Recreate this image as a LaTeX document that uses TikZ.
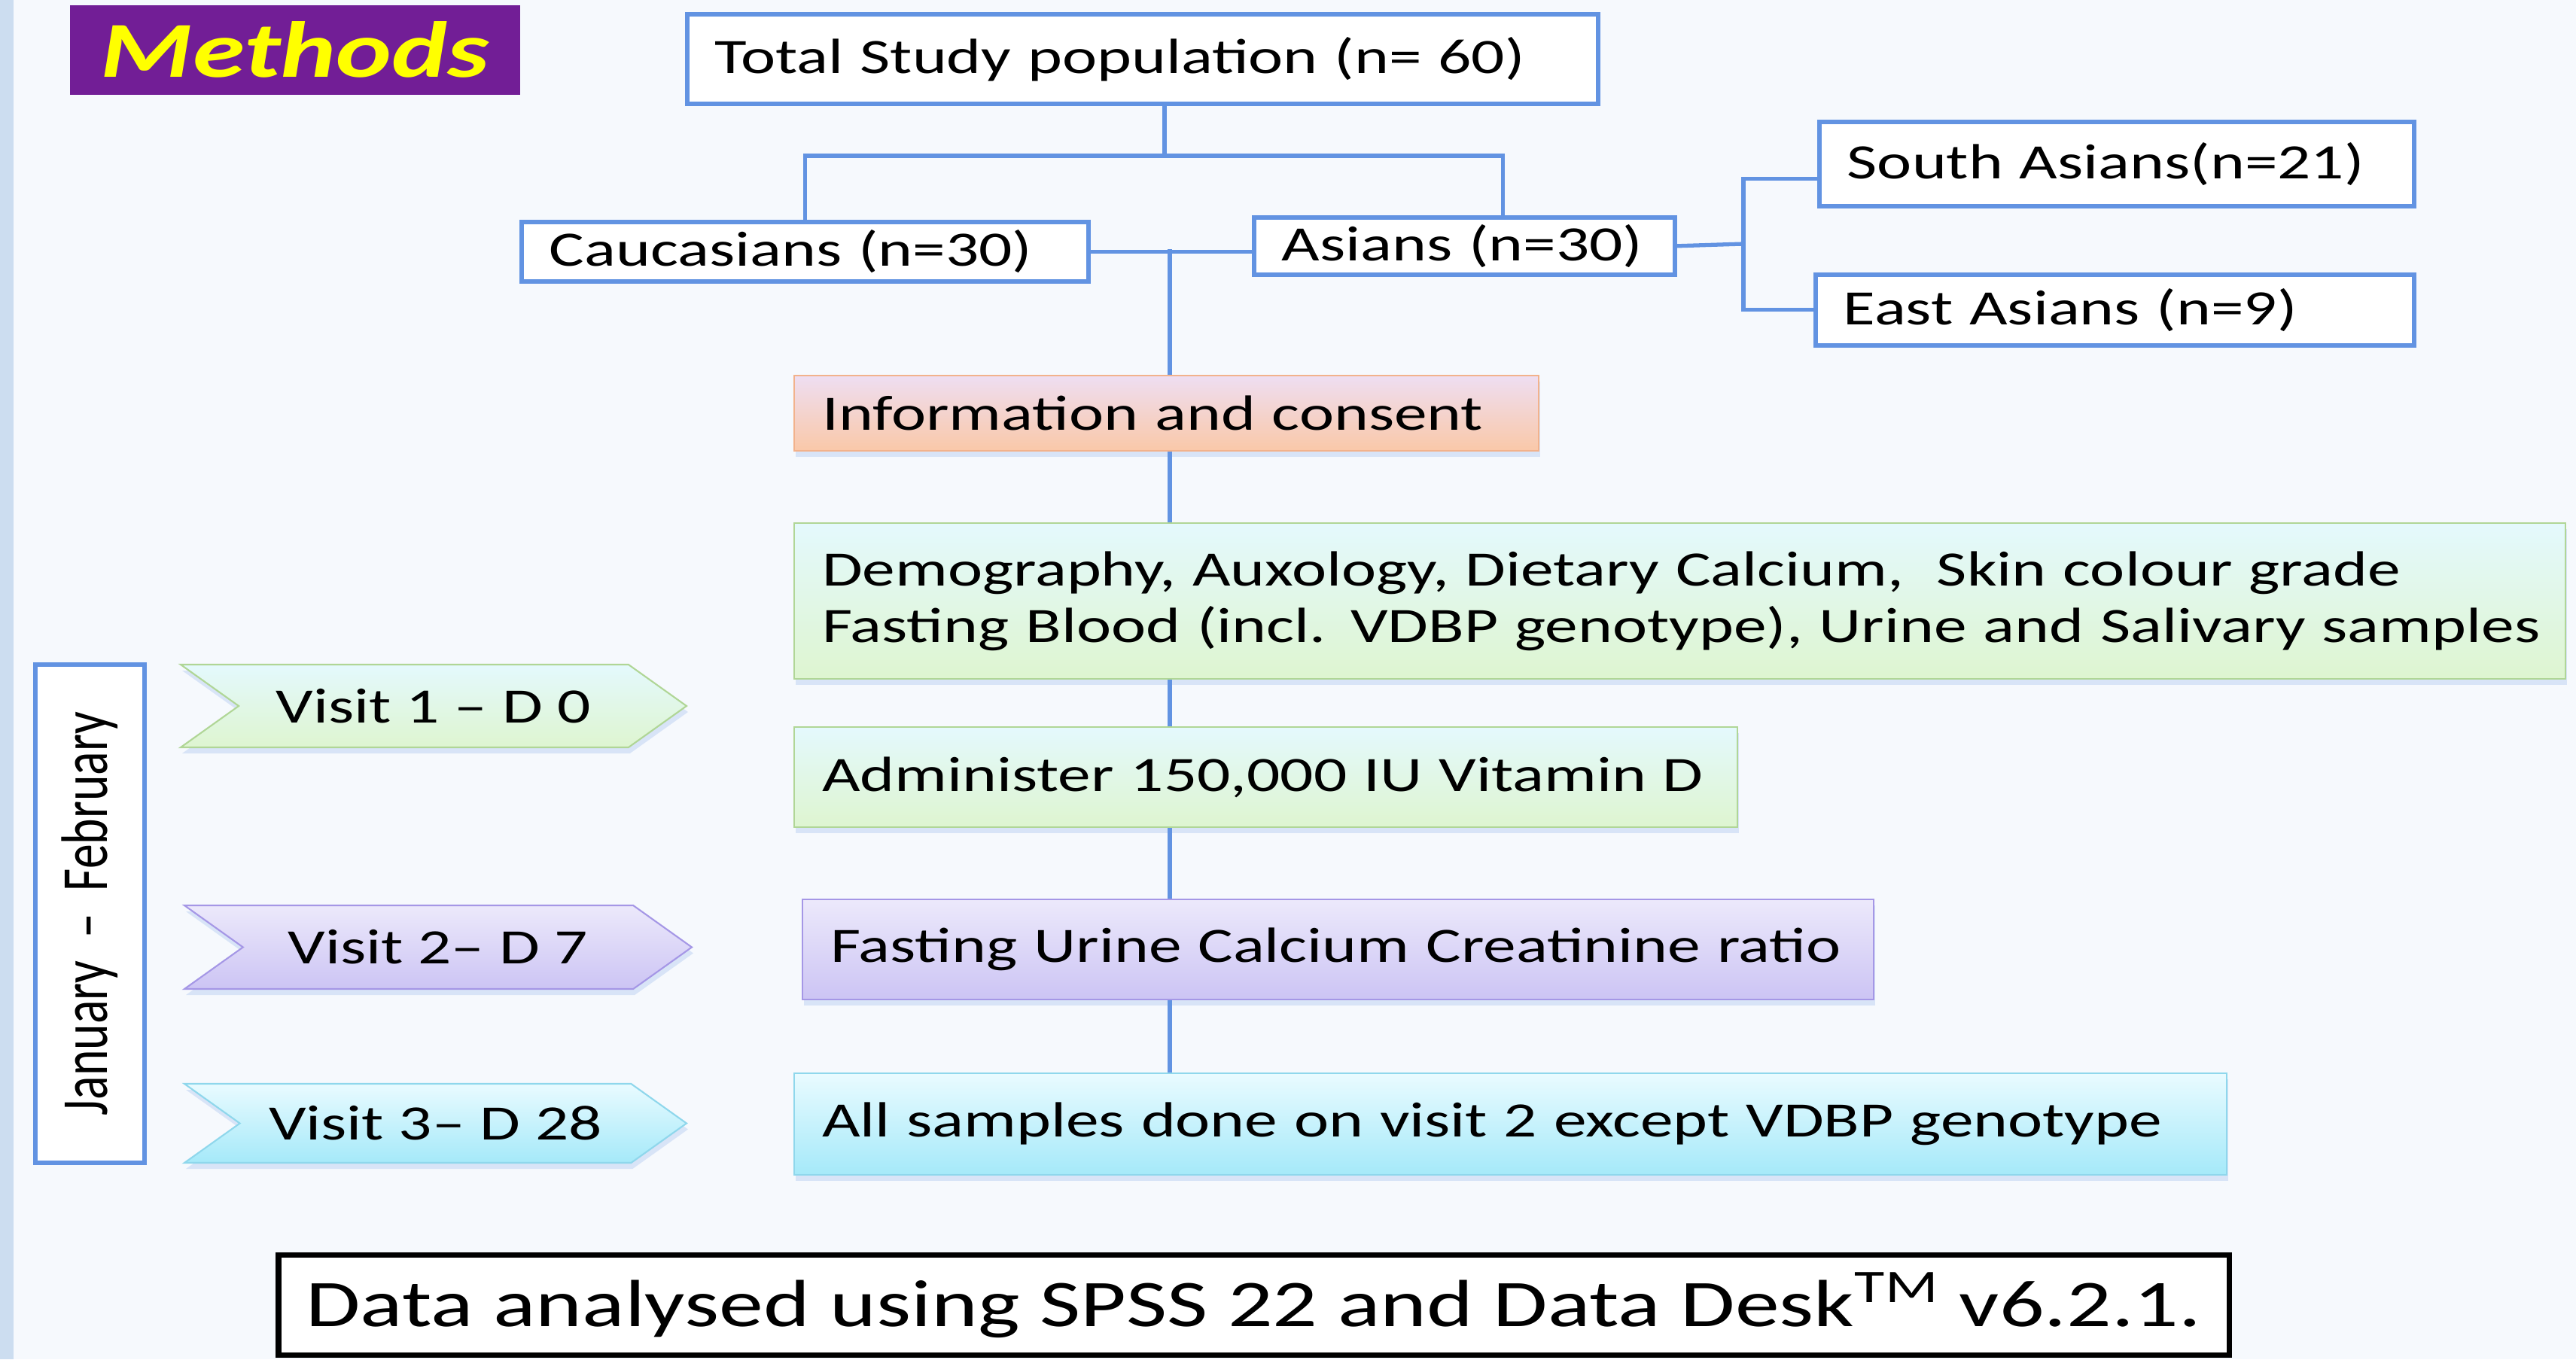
\documentclass[tikz,border=0pt]{standalone}
\usepackage{graphicx}
\usepackage{fontspec}
\setmainfont{Carlito}[FakeStretch=1.33]
\newfontfamily\plainfont{Carlito}
\usetikzlibrary{shapes.symbols,shadows}

\definecolor{pagebg}{RGB}{246,249,253}
\definecolor{bandblue}{RGB}{204,221,240}
\definecolor{linkblue}{RGB}{98,147,226}
\definecolor{methodpurple}{RGB}{114,30,150}
\definecolor{methodyellow}{RGB}{255,255,0}
\definecolor{infotop}{RGB}{238,222,242}
\definecolor{infobot}{RGB}{250,200,168}
\definecolor{infoline}{RGB}{242,178,140}
\definecolor{greentop}{RGB}{228,249,253}
\definecolor{greenbot}{RGB}{222,245,208}
\definecolor{greenline}{RGB}{176,214,150}
\definecolor{lilactop}{RGB}{236,233,251}
\definecolor{lilacbot}{RGB}{204,196,244}
\definecolor{lilacline}{RGB}{165,151,230}
\definecolor{cyantop}{RGB}{233,251,255}
\definecolor{cyanbot}{RGB}{165,233,249}
\definecolor{cyanline}{RGB}{143,215,236}

\tikzset{
	link/.style={draw=linkblue, line width=1.5pt},
	boxtext/.style={font=\fontsize{18.7}{21.3}\selectfont},
	bluebox/.style={boxtext, draw=linkblue, line width=1.6pt, fill=white,
		anchor=north west, align=left, inner xsep=3.7mm, inner ysep=0pt},
	softshadow/.style={drop shadow={shadow xshift=0.2mm, shadow yshift=-0.8mm,
		fill=linkblue, opacity=0.2}},
	stagebox/.style={boxtext, softshadow, line width=0.6pt, anchor=north west,
		align=left, inner xsep=3.7mm, inner ysep=0pt},
	infobox/.style={stagebox, draw=infoline, top color=infotop, bottom color=infobot},
	greenbox/.style={stagebox, draw=greenline, top color=greentop, bottom color=greenbot},
	lilacbox/.style={stagebox, draw=lilacline, top color=lilactop, bottom color=lilacbot},
	cyanbox/.style={stagebox, draw=cyanline, top color=cyantop, bottom color=cyanbot},
	visittag/.style={boxtext, softshadow, signal, signal from=west, signal to=east,
		signal pointer angle=71, line width=0.6pt, inner sep=0pt},
}

\begin{document}
\begin{tikzpicture}
	\fill[pagebg] (0,0) rectangle (34.22,-18.06);
	\fill[bandblue] (0,0) rectangle (0.18,-18.06);

	\node[fill=methodpurple, text=methodyellow, anchor=north west, inner sep=0pt,
		minimum width=5.98cm, minimum height=1.19cm,
		font=\fontsize{30}{36}\selectfont\bfseries\itshape] (methods) at (0.92,-0.06) {Methods};

	\node[bluebox, text width=11.36cm, minimum height=1.19cm] (total) at (9.10,-0.16)
		{Total Study population (n= 60)};
	\node[bluebox, text width=6.79cm, minimum height=0.79cm] (cauc) at (6.90,-2.92)
		{Caucasians (n=30)};
	\node[bluebox, text width=4.85cm, minimum height=0.76cm] (asian) at (16.63,-2.86)
		{Asians (n=30)};
	\node[bluebox, text width=7.16cm, minimum height=1.12cm] (south) at (24.14,-1.59)
		{South Asians(n=21)};
	\node[bluebox, text width=7.21cm, minimum height=0.94cm] (east) at (24.09,-3.62)
		{East Asians (n=9)};

	\node[infobox, text width=9.15cm, minimum height=1.00cm] (info) at (10.54,-4.98)
		{Information and consent};
	\node[greenbox, text width=22.79cm, minimum height=2.07cm] (demo) at (10.54,-6.94)
		{\mbox{Demography, Auxology, Dietary Calcium,~ Skin colour grade}\\
		\mbox{Fasting Blood (incl. VDBP genotype), Urine and Salivary samples}};
	\node[greenbox, text width=11.79cm, minimum height=1.33cm] (dose) at (10.54,-9.65)
		{Administer 150,000 IU Vitamin D};
	\node[lilacbox, text width=13.49cm, minimum height=1.33cm] (urine) at (10.65,-11.94)
		{Fasting Urine Calcium Creatinine ratio};
	\node[cyanbox, text width=18.29cm, minimum height=1.35cm] (repeat) at (10.54,-14.25)
		{All samples done on visit 2 except VDBP genotype};

	\node[bluebox, anchor=center, rotate=90, minimum width=6.62cm, minimum height=1.45cm,
		inner xsep=0pt] (months) at (1.195,-12.14)
		{\scalebox{1}[1.33]{\plainfont January~~–~~February}};

	\node[visittag, draw=greenline, top color=greentop, bottom color=greenbot,
		minimum width=6.72cm, minimum height=1.10cm] (visit1) at (5.76,-9.38) {Visit 1 – D 0};
	\node[visittag, draw=lilacline, top color=lilactop, bottom color=lilacbot,
		minimum width=6.74cm, minimum height=1.11cm] (visit2) at (5.82,-12.585) {Visit 2– D 7};
	\node[visittag, draw=cyanline, top color=cyantop, bottom color=cyanbot,
		minimum width=6.67cm, minimum height=1.05cm] (visit3) at (5.785,-14.925) {Visit 3– D 28};

	\node[draw=black, line width=2pt, fill=white, inner sep=0pt,
		minimum width=25.91cm, minimum height=1.33cm,
		font=\fontsize{25.2}{30}\selectfont] (software) at (16.655,-17.34)
		{Data analysed using SPSS 22 and Data Desk\textsuperscript{TM} v6.2.1.};

	\coordinate (split) at (15.47,-2.07);
	\coordinate (mid) at (15.54,-3.31);
	\coordinate (fork) at (23.16,-3.24);

	\draw[link] (split |- total.south) -- (split);
	\draw[link] (cauc.north) |- (split) -| ([xshift=5.15mm]asian.north);
	\draw[link] (cauc.east) -- (asian.west |- cauc.east);
	\draw[link] (asian.east) -- (fork);
	\draw[link] ([yshift=-2mm]south.west) -| (fork) |- (east.west);

	\draw[link] (mid) -- (mid |- info.north);
	\draw[link] (mid |- info.south) -- (mid |- demo.north);
	\draw[link] (mid |- demo.south) -- (mid |- dose.north);
	\draw[link] (mid |- dose.south) -- (mid |- urine.north);
	\draw[link] (mid |- urine.south) -- (mid |- repeat.north);
\end{tikzpicture}
\end{document}
